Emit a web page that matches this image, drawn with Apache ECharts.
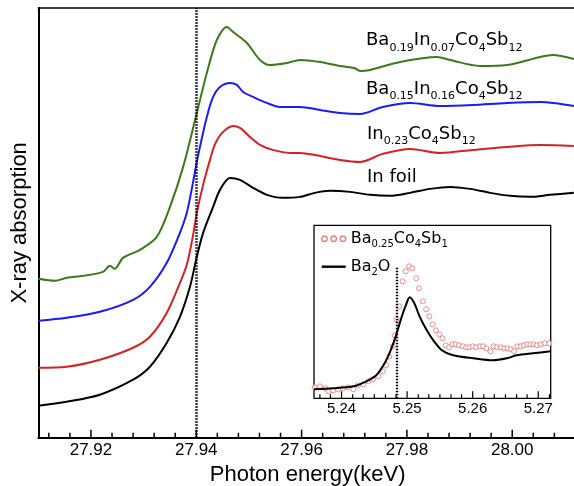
<!DOCTYPE html>
<html><head><meta charset="utf-8">
<script src="https://cdn.jsdelivr.net/npm/echarts@6/dist/echarts.min.js"></script>
<style>html,body{margin:0;padding:0;background:#fff}#c{width:574px;height:486px}</style>
</head><body><div id="c"></div>
<script>
// ---- tick values ----
const mainTicks = [27.92, 27.94, 27.96, 27.98, 28.00];
const mainMinorTicks = [27.912, 27.916, 27.924, 27.928, 27.932, 27.936, 27.944, 27.948, 27.952, 27.956,
  27.964, 27.968, 27.972, 27.976, 27.984, 27.988, 27.992, 27.996, 28.004, 28.008];
const insetTicks = [5.24, 5.25, 5.26, 5.27];
const insetMinorTicks = [5.2367, 5.2383, 5.2417, 5.2433, 5.2450, 5.2467, 5.2483, 5.2517, 5.2533, 5.2550,
  5.2567, 5.2583, 5.2617, 5.2633, 5.2650, 5.2667, 5.2683, 5.2717];

// ---- main spectra [energy keV, absorption (offset, a.u.)] ----
const inFoil = [[27.9100,0.32],[27.9154,0.36],[27.9217,0.43],[27.9280,0.58],[27.9312,0.71],[27.9344,0.95],
  [27.9369,1.21],[27.9388,1.51],[27.9401,1.81],[27.9413,2.05],[27.9432,2.31],[27.9445,2.48],[27.9464,2.60],
  [27.9483,2.58],[27.9508,2.50],[27.9534,2.43],[27.9564,2.40],[27.9597,2.41],[27.9625,2.45],[27.9654,2.47],
  [27.9692,2.46],[27.9730,2.43],[27.9768,2.42],[27.9806,2.45],[27.9844,2.49],[27.9882,2.51],[27.9920,2.49],
  [27.9958,2.45],[27.9996,2.42],[28.0034,2.41],[28.0072,2.43],[28.0117,2.45]];
const in023 = [[27.9100,0.70],[27.9154,0.71],[27.9217,0.78],[27.9280,0.90],[27.9312,1.01],[27.9344,1.25],
  [27.9369,1.55],[27.9382,1.73],[27.9394,2.03],[27.9401,2.25],[27.9413,2.53],[27.9426,2.78],[27.9435,2.93],
  [27.9449,3.05],[27.9470,3.12],[27.9483,3.10],[27.9502,3.01],[27.9521,2.93],[27.9545,2.88],[27.9578,2.85],
  [27.9597,2.85],[27.9625,2.83],[27.9673,2.78],[27.9711,2.76],[27.9754,2.84],[27.9806,2.89],[27.9863,2.85],
  [27.9925,2.88],[27.9990,2.91],[28.0053,2.93],[28.0117,2.92]];
const ba015in016 = [[27.9100,1.17],[27.9154,1.20],[27.9217,1.26],[27.9280,1.38],[27.9312,1.51],[27.9344,1.75],
  [27.9369,2.05],[27.9382,2.25],[27.9394,2.56],[27.9401,2.76],[27.9407,2.91],[27.9420,3.21],[27.9432,3.41],
  [27.9445,3.51],[27.9464,3.55],[27.9477,3.53],[27.9489,3.46],[27.9508,3.41],[27.9534,3.35],[27.9559,3.31],
  [27.9597,3.31],[27.9635,3.28],[27.9673,3.25],[27.9711,3.24],[27.9754,3.31],[27.9806,3.35],[27.9863,3.32],
  [27.9925,3.33],[27.9990,3.35],[28.0053,3.36],[28.0091,3.34],[28.0117,3.32]];
const ba019in007 = [[27.9100,1.59],[27.9132,1.57],[27.9154,1.60],[27.9185,1.62],[27.9223,1.66],[27.9236,1.72],
  [27.9245,1.69],[27.9261,1.80],[27.9293,1.88],[27.9325,2.01],[27.9350,2.31],[27.9375,2.71],[27.9401,3.25],
  [27.9420,3.65],[27.9439,3.98],[27.9458,4.11],[27.9470,4.06],[27.9496,3.95],[27.9521,3.78],[27.9540,3.73],
  [27.9572,3.75],[27.9597,3.78],[27.9635,3.76],[27.9673,3.72],[27.9700,3.70],[27.9711,3.67],[27.9730,3.68],
  [27.9787,3.76],[27.9857,3.81],[27.9882,3.78],[27.9939,3.72],[27.9990,3.73],[28.0053,3.81],[28.0077,3.83],
  [28.0117,3.79]];

// ---- inset spectra [energy keV, absorption] ----
const ba2o = [[5.2358,0.09],[5.2387,0.10],[5.2418,0.12],[5.2438,0.17],[5.2453,0.23],[5.2463,0.32],[5.2471,0.42],
  [5.2479,0.55],[5.2485,0.67],[5.2492,0.82],[5.2498,0.93],[5.2504,1.01],[5.2511,0.95],[5.2519,0.82],[5.2530,0.68],
  [5.2540,0.58],[5.2553,0.48],[5.2570,0.43],[5.2601,0.40],[5.2631,0.38],[5.2652,0.40],[5.2667,0.43],[5.2692,0.45],
  [5.2719,0.47]];
const ba025 = [[5.2359,0.11],[5.2367,0.12],[5.2375,0.10],[5.2380,0.07],[5.2387,0.08],[5.2395,0.09],[5.2402,0.10],
  [5.2410,0.11],[5.2418,0.09],[5.2425,0.13],[5.2433,0.14],[5.2441,0.17],[5.2448,0.19],[5.2456,0.22],[5.2463,0.27],
  [5.2468,0.33],[5.2473,0.42],[5.2478,0.52],[5.2481,0.63],[5.2484,0.79],[5.2488,0.92],[5.2493,1.17],[5.2498,1.27],
  [5.2503,1.32],[5.2508,1.30],[5.2514,1.20],[5.2518,1.10],[5.2524,0.97],[5.2529,0.89],[5.2534,0.82],[5.2539,0.74],
  [5.2544,0.68],[5.2549,0.64],[5.2554,0.60],[5.2559,0.53],[5.2564,0.51],[5.2569,0.54],[5.2574,0.54],[5.2579,0.53],
  [5.2585,0.52],[5.2590,0.51],[5.2595,0.51],[5.2600,0.52],[5.2605,0.51],[5.2611,0.52],[5.2616,0.52],[5.2621,0.50],
  [5.2627,0.47],[5.2632,0.52],[5.2637,0.51],[5.2643,0.51],[5.2648,0.50],[5.2653,0.50],[5.2658,0.49],[5.2663,0.47],
  [5.2668,0.52],[5.2673,0.52],[5.2678,0.53],[5.2683,0.54],[5.2688,0.54],[5.2693,0.54],[5.2698,0.53],[5.2704,0.54],
  [5.2710,0.55],[5.2717,0.55]];

const edgeMain = 27.94;
const edgeInset = [5.2484, 1.31];

// ---- texts ----
const curveLabelTexts = [
  '{m|Ba}{s|0.19}{m|In}{s|0.07}{m|Co}{s|4}{m|Sb}{s|12}',
  '{m|Ba}{s|0.15}{m|In}{s|0.16}{m|Co}{s|4}{m|Sb}{s|12}',
  '{m|In}{s|0.23}{m|Co}{s|4}{m|Sb}{s|12}',
  '{m|In foil}'
];
const legendNames = ['Ba0.25Co4Sb1', 'Ba2O'];
const legendRich = {'Ba0.25Co4Sb1': '{m|Ba}{s|0.25}{m|Co}{s|4}{m|Sb}{s|1}', 'Ba2O': '{m|Ba}{s|2}{m|O}'};

const chart = echarts.init(document.getElementById('c'), null, {renderer: 'canvas'});
const XMIN = 27.91, XMAX = 28.0123, IXMIN = 5.2358, IXMAX = 5.2719;
const labelPos = [[366, 27.7], [366, 76], [367, 121], [367, 164.5]];
const labelRich = {
  m: {fontFamily: 'DejaVu Sans', fontSize: 18, lineHeight: 26, verticalAlign: 'middle', fill: '#000'},
  s: {fontFamily: 'DejaVu Sans', fontSize: 11, lineHeight: 26, verticalAlign: 'bottom', fill: '#000'}
};
const wideBounds = {left: -200, right: -200, top: -200, bottom: -200};

// inward tick marks drawn at the axis values through the axis scales
function tickSeries(values, xi, yi, len, width) {
  return {
    type: 'custom', xAxisIndex: xi, yAxisIndex: yi, silent: true, clip: false, z: 5,
    data: values.map(v => [v, 0]),
    renderItem: (params, api) => {
      const p = api.coord([api.value(0), api.value(1)]);
      return {type: 'line', shape: {x1: p[0], y1: p[1], x2: p[0], y2: p[1] - len},
        style: {stroke: '#000', lineWidth: width}};
    }
  };
}

chart.setOption({
  animation: false,
  backgroundColor: '#fff',
  textStyle: {fontFamily: 'Liberation Sans', color: '#000'},
  grid: [
    {left: 38.3, right: -3, top: 8, bottom: 48.3, outerBounds: wideBounds},
    {left: 314, top: 225.3, width: 236.7, height: 173, show: true, borderColor: '#000', borderWidth: 1.3,
      backgroundColor: '#fff', outerBounds: wideBounds}
  ],
  xAxis: [
    {gridIndex: 0, type: 'value', min: XMIN, max: XMAX, splitNumber: 5, position: 'bottom',
      axisLine: {show: true, onZero: false, lineStyle: {color: '#000', width: 2}},
      axisTick: {show: false}, minorTick: {show: false},
      axisLabel: {show: true, showMinLabel: false, showMaxLabel: false, formatter: v => v.toFixed(2), color: '#000',
        fontSize: 17, fontFamily: 'Liberation Sans', margin: 4},
      splitLine: {show: false}, minorSplitLine: {show: false},
      name: 'Photon energy(keV)', nameLocation: 'middle', nameGap: 25,
      nameTextStyle: {fontSize: 22, lineHeight: 22, color: '#000', fontFamily: 'Liberation Sans'}},
    {gridIndex: 0, type: 'value', min: XMIN, max: XMAX, position: 'top',
      axisLine: {show: true, onZero: false, lineStyle: {color: '#000', width: 1.5}},
      axisTick: {show: false}, axisLabel: {show: false}, splitLine: {show: false}},
    {gridIndex: 1, type: 'value', min: IXMIN, max: IXMAX, splitNumber: 3, position: 'bottom',
      axisLine: {show: false, onZero: false},
      axisTick: {show: false}, minorTick: {show: false},
      axisLabel: {show: true, showMinLabel: false, showMaxLabel: false, formatter: v => v.toFixed(2), color: '#000',
        fontSize: 15, fontFamily: 'Liberation Sans', margin: 3},
      splitLine: {show: false}, minorSplitLine: {show: false}}
  ],
  yAxis: [
    {gridIndex: 0, type: 'value', min: 0, max: 4.3,
      axisLine: {show: true, onZero: false, lineStyle: {color: '#000', width: 2}},
      axisTick: {show: false}, axisLabel: {show: false}, splitLine: {show: false},
      name: 'X-ray absorption', nameLocation: 'middle', nameGap: 7,
      nameTextStyle: {fontSize: 22, color: '#000', fontFamily: 'Liberation Sans'}},
    {gridIndex: 1, type: 'value', min: 0, max: 1.73,
      axisLine: {show: false, onZero: false}, axisTick: {show: false}, axisLabel: {show: false}, splitLine: {show: false}}
  ],
  legend: {
    show: true, orient: 'vertical', left: 321, top: 230.7, padding: 0, itemWidth: 24, itemHeight: 8, itemGap: 9,
    selectedMode: false,
    data: [
      {name: legendNames[0], icon: 'path://M0.5,4a2.5,2.5 0 1,0 5,0a2.5,2.5 0 1,0 -5,0M9,4a2.5,2.5 0 1,0 5,0a2.5,2.5 0 1,0 -5,0M17.5,4a2.5,2.5 0 1,0 5,0a2.5,2.5 0 1,0 -5,0',
        itemStyle: {color: '#fff', borderColor: '#e06060', borderWidth: 1.4}},
      {name: legendNames[1], icon: 'path://M0,0h24v2.4h-24z', itemStyle: {color: '#000', borderWidth: 0}}
    ],
    formatter: n => legendRich[n],
    textStyle: {rich: {
      m: {fontFamily: 'DejaVu Sans', fontSize: 16, lineHeight: 22, verticalAlign: 'middle', color: '#000'},
      s: {fontFamily: 'DejaVu Sans', fontSize: 10, lineHeight: 22, verticalAlign: 'bottom', color: '#000'}
    }}
  },
  series: [
    {type: 'line', name: 'In foil', xAxisIndex: 0, yAxisIndex: 0, data: inFoil, symbol: 'none', smooth: 0.3,
      lineStyle: {color: '#000', width: 2}, itemStyle: {color: '#000'},
      markLine: {silent: true, symbol: ['none', 'none'], label: {show: false},
        lineStyle: {type: [1.5, 1.5], width: 2.6, color: '#000'}, data: [{xAxis: edgeMain}]}},
    {type: 'line', name: 'In0.23', xAxisIndex: 0, yAxisIndex: 0, data: in023, symbol: 'none', smooth: 0.3,
      lineStyle: {color: '#d42222', width: 2}, itemStyle: {color: '#d42222'}},
    {type: 'line', name: 'Ba0.15In0.16', xAxisIndex: 0, yAxisIndex: 0, data: ba015in016, symbol: 'none', smooth: 0.3,
      lineStyle: {color: '#1a1aff', width: 2}, itemStyle: {color: '#1a1aff'}},
    {type: 'line', name: 'Ba0.19In0.07', xAxisIndex: 0, yAxisIndex: 0, data: ba019in007, symbol: 'none', smooth: 0.3,
      lineStyle: {color: '#3b7a1a', width: 2}, itemStyle: {color: '#3b7a1a'}},
    {type: 'scatter', name: legendNames[0], xAxisIndex: 2, yAxisIndex: 1, data: ba025, symbol: 'circle', symbolSize: 5,
      itemStyle: {color: '#fff', borderColor: '#e47474', borderWidth: 1}, z: 3},
    {type: 'line', name: legendNames[1], xAxisIndex: 2, yAxisIndex: 1, data: ba2o, symbol: 'none', smooth: 0.3,
      lineStyle: {color: '#000', width: 2}, itemStyle: {color: '#000'}, z: 4,
      markLine: {silent: true, symbol: ['none', 'none'], label: {show: false},
        lineStyle: {type: [1.5, 1.5], width: 2.4, color: '#000'},
        data: [[{coord: [edgeInset[0], 0]}, {coord: [edgeInset[0], edgeInset[1]]}]]}},
    tickSeries(mainTicks, 0, 0, 8, 1.5),
    tickSeries(mainMinorTicks, 0, 0, 5, 1.5),
    tickSeries(insetTicks, 2, 1, 7, 1.2),
    tickSeries(insetMinorTicks, 2, 1, 4, 1.2)
  ],
  graphic: curveLabelTexts.map((t, i) => ({
    type: 'text', x: labelPos[i][0], y: labelPos[i][1], silent: true,
    style: {text: t, rich: labelRich, align: 'left', verticalAlign: 'top', fill: '#000'}
  }))
});
</script></body></html>
